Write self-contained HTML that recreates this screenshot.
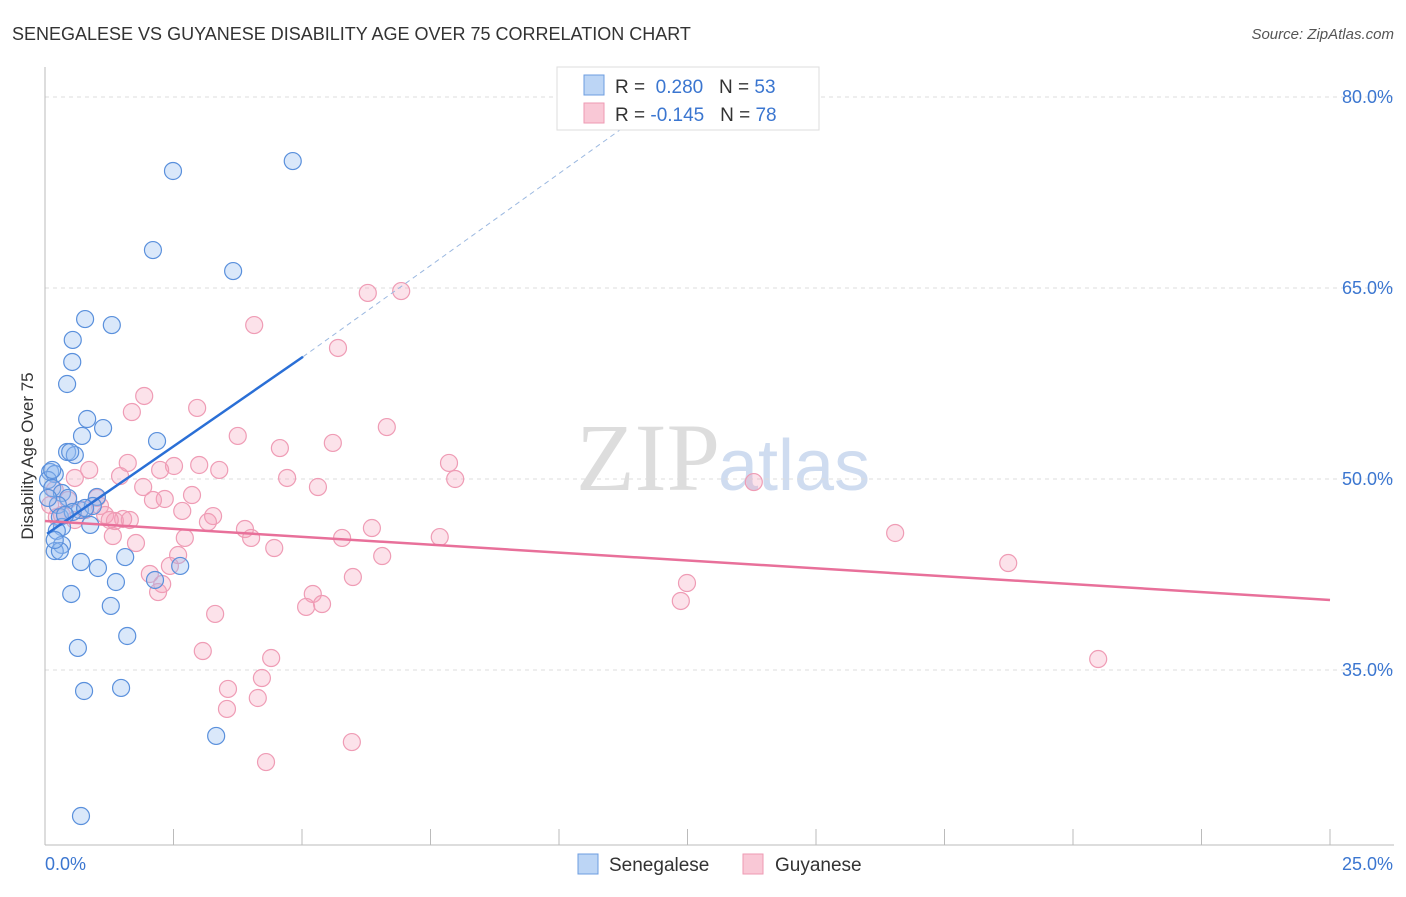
<!DOCTYPE html>
<html><head><meta charset="utf-8"><style>
body{margin:0;background:#fff;font-family:"Liberation Sans",sans-serif}
</style></head><body>
<svg id="c" width="1406" height="892" xmlns="http://www.w3.org/2000/svg">
<text x="12" y="40" font-size="18" fill="#333">SENEGALESE VS GUYANESE DISABILITY AGE OVER 75 CORRELATION CHART</text>
<text x="1394" y="39" font-size="15" fill="#555" font-style="italic" text-anchor="end">Source: ZipAtlas.com</text>
<text x="720" y="490" font-size="96" fill="#ddd" text-anchor="end" font-family="Liberation Serif">ZIP</text>
<text x="718" y="490" font-size="72" fill="#cfdcf0">atlas</text>
<text transform="translate(33,456) rotate(-90)" font-size="17" fill="#333" text-anchor="middle">Disability Age Over 75</text>
<g id="grid"></g><g id="pts"></g><g id="lines"></g>
<g>
<rect x="557" y="67" width="262" height="63" fill="#fff" stroke="#ddd"/>
<rect x="584" y="75" width="20" height="20" fill="#bcd5f5" stroke="#6c9de0"/>
<rect x="584" y="103" width="20" height="20" fill="#f9c8d6" stroke="#ee9ab3"/>
<text x="615" y="93" font-size="19" fill="#333">R = <tspan fill="#3b76d0">&#160;0.280</tspan>&#160;&#160;&#160;N = <tspan fill="#3b76d0">53</tspan></text>
<text x="615" y="121" font-size="19" fill="#333">R = <tspan fill="#3b76d0">-0.145</tspan>&#160;&#160;&#160;N = <tspan fill="#3b76d0">78</tspan></text>
</g>
<g>
<rect x="578" y="854" width="20" height="20" fill="#bcd5f5" stroke="#6c9de0"/>
<text x="609" y="871" font-size="19" fill="#333">Senegalese</text>
<rect x="743" y="854" width="20" height="20" fill="#f9c8d6" stroke="#ee9ab3"/>
<text x="775" y="871" font-size="19" fill="#333">Guyanese</text>
</g>
</svg>
<script>
const yTicks=[80,65,50,35];
const xTickLabels=["0.0%","25.0%"];
const bluePx=[[293,161],[173,171],[153,250],[233,271],[85,319],[112,325],[73,340],[72,362],[67,384],[87,419],[103,428],[82,436],[157,441],[67,452],[75,455],[70,452],[50,472],[55,474],[48,480],[52,488],[62,493],[68,498],[97,497],[58,505],[80,510],[93,506],[60,517],[73,512],[90,525],[62,527],[57,531],[62,545],[55,551],[60,551],[125,557],[81,562],[98,568],[180,566],[116,582],[155,580],[71,594],[111,606],[127,636],[78,648],[84,691],[121,688],[216,736],[81,816],[48,498],[52,470],[65,515],[85,508],[55,540]];
const pinkPx=[[401,291],[368,293],[254,325],[338,348],[144,396],[132,412],[197,408],[387,427],[238,436],[333,443],[280,448],[128,463],[174,466],[199,465],[219,470],[449,463],[89,470],[75,478],[120,476],[287,478],[455,479],[754,482],[318,487],[143,487],[192,495],[165,499],[153,500],[97,498],[182,511],[213,516],[208,522],[100,506],[105,515],[123,519],[115,521],[57,517],[62,515],[372,528],[245,529],[251,538],[185,538],[342,538],[440,537],[113,536],[895,533],[136,543],[274,548],[178,555],[382,556],[170,566],[150,574],[1008,563],[162,584],[158,592],[353,577],[687,583],[313,594],[322,604],[306,607],[681,601],[215,614],[203,651],[271,658],[1098,659],[262,678],[228,689],[258,698],[227,709],[352,742],[266,762],[85,510],[68,500],[50,505],[75,520],[130,520],[110,520],[55,490],[160,470]];
// convert the read positions into data values (x %, y %)
const toData=p=>[+((p[0]-45)/51.4).toFixed(2),+(80-(p[1]-97)/12.733).toFixed(2)];
const senegaleseX=bluePx.map(p=>toData(p)[0]), senegaleseY=bluePx.map(p=>toData(p)[1]);
const guyaneseX=pinkPx.map(p=>toData(p)[0]), guyaneseY=pinkPx.map(p=>toData(p)[1]);
const blueTrend=[[0.04,45.7],[5.02,59.6]], blueDash=[[5.02,59.6],[11.77,79.1]];
const pinkTrend=[[0,46.7],[25,40.5]];
const X=v=>45+v*51.4, Y=v=>97+(80-v)*12.733;
const NS="http://www.w3.org/2000/svg";
function mk(t,a,par){const e=document.createElementNS(NS,t);for(const k in a)e.setAttribute(k,a[k]);par.appendChild(e);return e;}
const g=document.getElementById('grid');
yTicks.forEach(t=>{const l=mk('line',{x1:45,x2:1394,y1:Y(t),y2:Y(t),stroke:'#ddd','stroke-dasharray':'4,4'},g);

const tx=mk('text',{x:1393,y:Y(t)+6,'font-size':18,fill:'#3b76d0','text-anchor':'end'},g);tx.textContent=t.toFixed(1)+'%';
});
mk('line',{x1:45,x2:45,y1:67,y2:845,stroke:'#bbb'},g);
mk('line',{x1:45,x2:1394,y1:845,y2:845,stroke:'#bbb'},g);
for(let i=0;i<=10;i++){const x=X(i*2.5);mk('line',{x1:x,x2:x,y1:829,y2:845,stroke:'#bbb'},g);}
const a=mk('text',{x:45,y:870,'font-size':18,fill:'#3b76d0'},g);a.textContent=xTickLabels[0];

const b=mk('text',{x:1393,y:870,'font-size':18,fill:'#3b76d0','text-anchor':'end'},g);b.textContent=xTickLabels[1];

const pg=document.getElementById('pts');
guyaneseX.forEach((x,i)=>{const c=mk('circle',{cx:X(x),cy:Y(guyaneseY[i]),r:8.5,fill:'rgba(245,160,185,0.3)',stroke:'#ef9cb5','stroke-width':1.2},pg);
});
senegaleseX.forEach((x,i)=>{const c=mk('circle',{cx:X(x),cy:Y(senegaleseY[i]),r:8.5,fill:'rgba(150,190,240,0.35)',stroke:'#5a90dc','stroke-width':1.2},pg);
});
const lg=document.getElementById('lines');
let l1=mk('line',{x1:X(blueTrend[0][0]),y1:Y(blueTrend[0][1]),x2:X(blueTrend[1][0]),y2:Y(blueTrend[1][1]),stroke:'#2a6fd6','stroke-width':2.5},lg);

let l2=mk('line',{x1:X(blueDash[0][0]),y1:Y(blueDash[0][1]),x2:X(blueDash[1][0]),y2:Y(blueDash[1][1]),stroke:'#9bb8e0','stroke-width':1,'stroke-dasharray':'5,4'},lg);

let l3=mk('line',{x1:X(pinkTrend[0][0]),y1:Y(pinkTrend[0][1]),x2:X(pinkTrend[1][0]),y2:Y(pinkTrend[1][1]),stroke:'#e8709a','stroke-width':2.5},lg);

</script>
</body></html>
